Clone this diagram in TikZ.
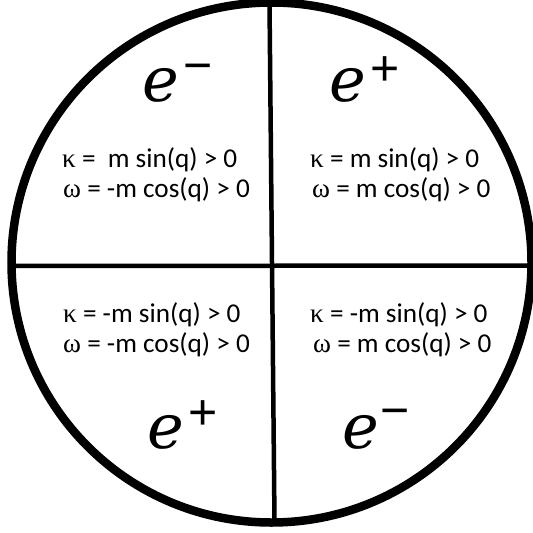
\documentclass[tikz,border=0pt]{standalone}
\usepackage{fontspec}
\setmainfont{Carlito}
\newfontfamily\greekfont{Liberation Serif}
\newfontfamily\signfont{Liberation Sans}
\newfontfamily\efont{DejaVu Serif}
\begin{document}
\begin{tikzpicture}[x=1pt,y=-1pt,
  eqtext/.style={anchor=base west,inner sep=0pt,font=\fontsize{27.2}{30}\selectfont},
  bige/.style={anchor=base west,inner sep=0pt,font=\efont\itshape\fontsize{62}{62}\selectfont},
  signtext/.style={anchor=base,inner sep=0pt,font=\signfont\fontsize{50}{50}\selectfont},
  rim/.style={line width=8.5pt},
  axis/.style={line width=4.5pt}]
\useasboundingbox (0,0) rectangle (533,533);
\fill[white] (0,0) rectangle (533,533);
% axes
\coordinate (vt) at (269.5,3);
\coordinate (vb) at (274.5,522);
\coordinate (hl) at (11,266);
\coordinate (hr) at (532,265.5);
\draw[axis] (vt) -- (vb);
\draw[axis] (hl) -- (hr);
% rim
\coordinate (c) at (271.5,262.5);
\draw[rim] (c) circle[radius=260pt];
% charges
\node[bige] (e1) at (142,101) {e};
\node[signtext] (s1) at (198.5,82.9) {−};
\node[bige] (e2) at (329,101) {e};
\node[signtext] (s2) at (385,85.4) {+};
\node[bige] (e3) at (147,448) {e};
\node[signtext] (s3) at (203.5,429.4) {+};
\node[bige] (e4) at (342,448) {e};
\node[signtext] (s4) at (395,427.9) {−};
% equations
\node[eqtext] (tl1) at (62,167) {{\greekfont κ} =\hspace{0.45em}m sin(q) > 0};
\node[eqtext] (tl2) at (63,197) {{\greekfont ω} = -m cos(q) > 0};
\node[eqtext] (tr1) at (310,167) {{\greekfont κ} = m sin(q) > 0};
\node[eqtext] (tr2) at (312,197) {{\greekfont ω} = m cos(q) > 0};
\node[eqtext] (bl1) at (63,322) {{\greekfont κ} = -m sin(q) > 0};
\node[eqtext] (bl2) at (63,352) {{\greekfont ω} = -m cos(q) > 0};
\node[eqtext] (br1) at (310,322) {{\greekfont κ} = -m sin(q) > 0};
\node[eqtext] (br2) at (313,352) {{\greekfont ω} = m cos(q) > 0};
\end{tikzpicture}
\end{document}
